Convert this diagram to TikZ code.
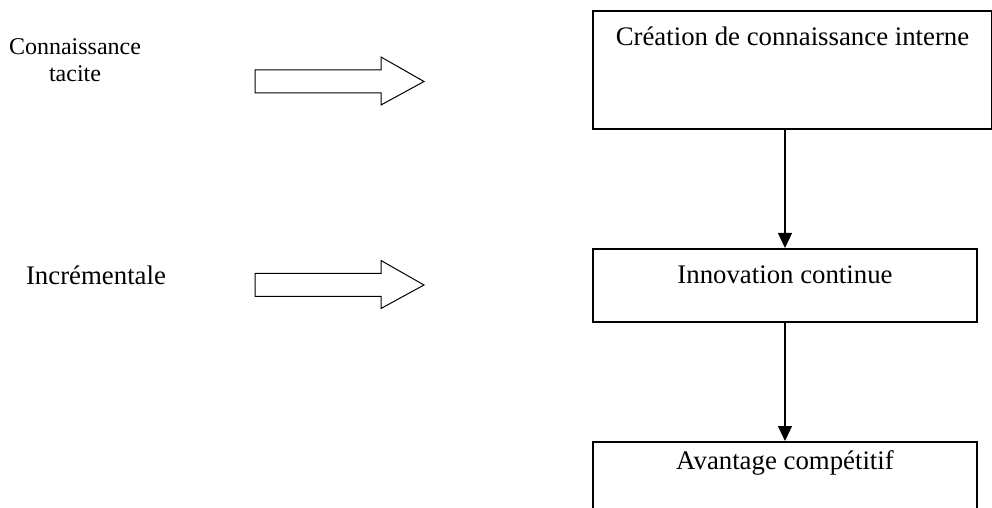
\documentclass[tikz,border=0pt]{standalone}
\usepackage{fontspec}
\setmainfont{Liberation Serif}
\usetikzlibrary{arrows.meta}
\tikzstyle{BoxLine} = [draw, line width=1pt, rectangle, inner ysep=0pt, anchor=north west, font=\fontsize{13.4}{15}\selectfont]
\tikzstyle{FlowLine} = [line width=0.6pt, -{Triangle[length=7.5pt,width=7pt]}]
\tikzstyle{HollowArrow} = [line width=0.5pt]

\begin{document}
\begin{tikzpicture}[x=0.5pt,y=-0.5pt]
\useasboundingbox (0,0) rectangle (992,508);
\clip (0,0) rectangle (992,508);

% left labels
\node (tacite) at (75,60) [align=center, font=\fontsize{12}{13.5}\selectfont] {Connaissance\\tacite};
\node (incr) at (96,275) [font=\fontsize{13.4}{15}\selectfont] {Incrémentale};

% hollow arrows
\draw [HollowArrow] (255,70) -- (381,70) -- (381,57) -- (424,81.5) -- (381,105) -- (381,93) -- (255,93) -- cycle;
\draw [HollowArrow,shift={(0,203.5)}] (255,70) -- (381,70) -- (381,57) -- (424,81.5) -- (381,105) -- (381,93) -- (255,93) -- cycle;

% boxes
\node (creation) at (592,10) [BoxLine, minimum width=199.5pt, text height=17.5pt, text depth=41.5pt] {Création de connaissance interne};
\node (innov) at (592,248) [BoxLine, minimum width=192pt, text height=17.5pt, text depth=19pt] {Innovation continue};
\node (avant) at (592,441) [BoxLine, minimum width=192pt, text height=13.5pt, text depth=40pt] {Avantage compétitif};

\draw [FlowLine] (creation.south -| innov.north) -- (innov.north);
\draw [FlowLine] (innov.south) -- (avant.north);

\end{tikzpicture}
\end{document}
